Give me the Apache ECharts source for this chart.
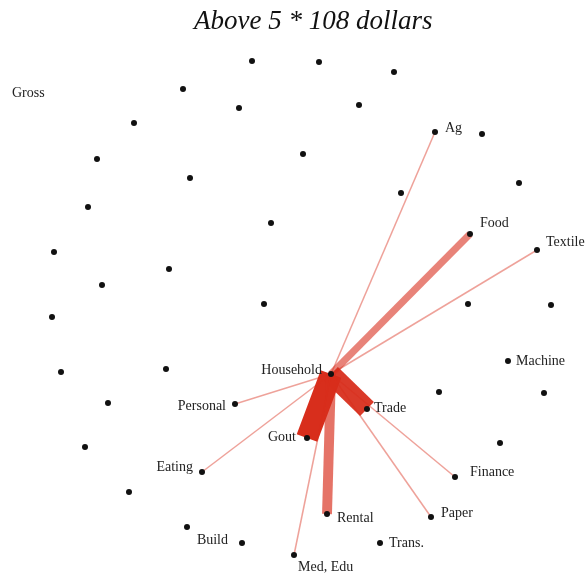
<!DOCTYPE html>
<html>
<head>
<meta charset="utf-8">
<script src="https://cdn.jsdelivr.net/npm/echarts@6/dist/echarts.min.js"></script>
<style>
  html, body { margin: 0; padding: 0; background: #fff; }
  #chart { width: 585px; height: 580px; }
</style>
</head>
<body>
<div id="chart"></div>
<script>
// sector nodes (position on the layout plane)
const nodeNames = [
    '', '', '', '', '', '', 'Ag', '', '', '', '', '', '', '', '',
    '', 'Food', 'Textile', '', '', '', '', '', '', '', 'Machine', '',
    '', 'Household', '', '', '', 'Personal', 'Trade', 'Gout', '', '',
    'Eating', 'Finance', '', 'Rental', 'Paper', '', 'Build', 'Trans.', 'Med, Edu'
]
const nodeX = [
    252, 319, 394, 183, 239, 359, 435, 482, 134, 303, 97, 190, 88, 401, 519,
    271, 470, 537, 54, 169, 102, 264, 468, 551, 52, 508, 61,
    166, 331, 439, 544, 108, 235, 367, 307, 85, 500,
    202, 455, 129, 327, 431, 187, 242, 380, 294
]
const nodeY = [
    61, 62, 72, 89, 108, 105, 132, 134, 123, 154, 159, 178, 207, 193, 183,
    223, 234, 250, 252, 269, 285, 304, 304, 305, 317, 361, 372,
    369, 374, 392, 393, 403, 404, 409, 438, 447, 443,
    472, 477, 492, 514, 517, 527, 543, 543, 555
]

// flows out of Household (above 5 * 10^8 dollars)
const flowTargets = ['Gout', 'Trade', 'Rental', 'Food', 'Ag', 'Textile', 'Personal', 'Eating', 'Med, Edu', 'Finance', 'Paper']
const flowValues = [10, 9, 4.5, 3.2, 0.7, 0.7, 0.7, 0.7, 0.7, 0.7, 0.7]

// where each label sits relative to its dot
const labelPlace = {
    'Ag': { position: 'right', offset: [2, -4] },
    'Food': { position: 'right', offset: [2, -11] },
    'Textile': { position: 'right', offset: [1, -8] },
    'Machine': { position: 'right', offset: [0, 0] },
    'Household': { position: 'left', offset: [-1, -4] },
    'Personal': { position: 'left', offset: [-1, 2] },
    'Trade': { position: 'right', offset: [-1, -1] },
    'Gout': { position: 'left', offset: [-3, -1] },
    'Eating': { position: 'left', offset: [-1, -5] },
    'Finance': { position: 'right', offset: [7, -5] },
    'Rental': { position: 'right', offset: [2, 4] },
    'Paper': { position: 'right', offset: [2, -4] },
    'Build': { position: 'left', offset: [-6, -3] },
    'Trans.': { position: 'right', offset: [1, 0] },
    'Med, Edu': { position: 'right', offset: [-4, 12] }
}

const nodes = nodeX.map((x, i) => {
    const name = nodeNames[i]
    const item = { id: 'n' + i, name: name || ('n' + i), value: [x, nodeY[i]] }
    if (name) {
        item.label = Object.assign({ show: true }, labelPlace[name])
    }
    return item
})
nodes.push({
    id: 'gross', name: 'Gross', value: [12, 92], symbolSize: 0,
    label: { show: true, position: 'right', offset: [-5, 1] }
})

const idOf = name => nodes.find(n => n.name === name).id

const links = flowTargets.map((t, i) => {
    const v = flowValues[i]
    return {
        source: idOf('Household'),
        target: idOf(t),
        value: v,
        lineStyle: {
            width: v * 2.2,
            color: 'rgb(216, 46, 28)',
            opacity: 0.4 + 0.06 * v
        }
    }
})

const chart = echarts.init(document.getElementById('chart'))
chart.setOption({
    animation: false,
    title: {
        text: 'Above 5 * 108 dollars',
        left: 189,
        top: 3,
        textStyle: {
            fontFamily: 'Liberation Serif',
            fontStyle: 'italic',
            fontWeight: 'normal',
            fontSize: 27,
            color: '#111'
        }
    },
    grid: { left: 0, right: 0, top: 0, bottom: 0 },
    xAxis: { type: 'value', min: 0, max: 585, show: false },
    yAxis: { type: 'value', min: 0, max: 580, inverse: true, show: false },
    series: [
        {
            type: 'graph',
            coordinateSystem: 'cartesian2d',
            layout: 'none',
            symbol: 'circle',
            symbolSize: 6,
            itemStyle: { color: '#111' },
            label: {
                show: false,
                fontFamily: 'Liberation Serif',
                fontSize: 14,
                color: '#222'
            },
            lineStyle: { curveness: 0 },
            emphasis: { disabled: true },
            data: nodes,
            links: links
        }
    ]
})
</script>
</body>
</html>
